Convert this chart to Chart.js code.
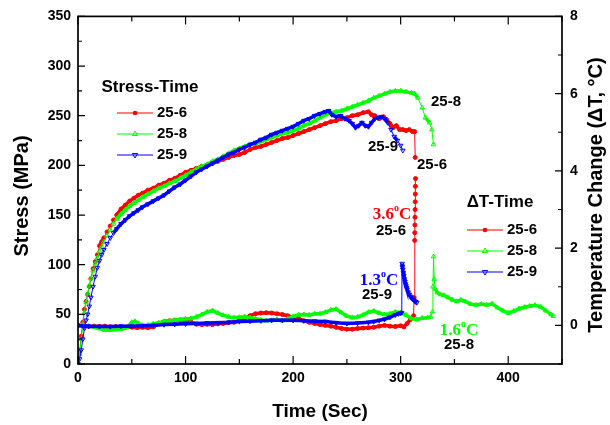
<!DOCTYPE html>
<html>
<head>
<meta charset="utf-8">
<script src="https://cdn.jsdelivr.net/npm/chart.js"></script>
<style>
  body { margin: 0; background: #fff; }
  canvas { display: block; }
</style>
</head>
<body>
<canvas id="myChart" width="610" height="425"></canvas>
<script>
// stress vs time (MPa)
const t6 = [0,1.5,3,4.5,6,7.5,9,10.5,12,14,16,18,20,22,24,27,30,33,36,40,44,48,52,56,60,65,70,75,80,85,90,95,100,105,110,115,120,125,130,135,140,145,150,155,160,165,170,175,180,185,190,195,200,205,210,215,220,225,230,235,240,245,250,255,260,265,270,273,276,280,284,287,290,293,296,299,302,305,308,311,313,313.5];
const s6 = [0,12,28,42,55,63,70,78,86,96,103,110,119,123,127,133,139,145,150,156,160,164,167,170,172,175,177,180,182,185,187,190,193,195,197,199,200,202,204,206,208,210,211,213,216,218,219,221,223,225,227,228,230,232,234,236,238,240,242,244,245,247,248,250,251,253,254,251,250,247,249,246,242,238,240,236,236,235,236,234,234,208];

const t8 = [0,1.5,3,4.5,6,7.5,9,10.5,12,14,16,18,20,22,24,27,30,33,36,40,44,48,52,56,60,65,70,75,80,85,90,95,100,105,110,115,120,125,130,135,140,145,150,155,160,165,170,175,180,185,190,195,200,205,210,215,220,225,230,235,240,245,250,255,260,265,270,275,280,285,290,295,300,305,310,313,316,320,323,327,329,330.5];
const s8 = [0,10,25,40,52,62,71,79,86,94,101,107,113,118,123,129,135,141,146,151,155,159,162,165,168,171,174,177,179,182,184,187,190,193,196,199,201,204,206,209,212,215,217,219,221,222,224,226,228,230,232,233,235,237,240,242,245,248,251,253,254,255,257,259,261,263,265,268,270,272,274,275,275,274,273,272,268,258,248,243,236,221];

const t9 = [0,1.5,3,4.5,6,7.5,9,10.5,12,14,16,18,20,22,24,27,30,33,36,40,44,48,52,56,60,65,70,75,80,85,90,95,100,105,110,115,120,125,130,135,140,145,150,155,160,165,170,175,180,185,190,195,200,205,210,215,220,225,230,233,236,240,244,248,252,255,258,261,264,267,270,273,276,279,282,285,288,291,294,297,300,302];
const s9 = [0,5,14,25,36,44,50,58,67,78,88,97,104,110,115,121,127,132,136,141,145,149,152,155,158,161,164,167,170,174,178,181,185,189,193,196,199,202,205,208,211,213,216,218,221,223,226,228,231,233,235,237,239,242,245,247,250,252,254,255,251,249,250,247,245,242,238,240,243,240,239,243,247,248,249,247,243,236,229,225,220,215];

// temperature change vs time (deg C)
const tt6 = [0,5,10,15,20,25,30,35,40,45,50,55,60,65,70,75,80,85,90,95,100,105,110,115,120,125,130,135,140,145,150,155,160,165,170,175,180,185,190,195,200,205,210,215,220,225,230,235,240,245,250,255,260,265,270,275,280,285,290,295,300,303,306,309,311,312,312.5,313,313.1,313.2,313.3,313.4,313.5,313.6,313.7,313.8];
const dT6 = [0,-0.02,-0.03,-0.02,-0.03,-0.02,-0.04,-0.03,-0.05,-0.04,-0.05,-0.06,-0.05,-0.06,-0.04,0.05,0.1,0.12,0.13,0.12,0.12,0.09,0.03,0.02,0.03,0.02,0.04,0.05,0.07,0.08,0.12,0.18,0.25,0.3,0.32,0.33,0.32,0.3,0.28,0.25,0.2,0.18,0.12,0.08,0.05,0.02,0,-0.02,-0.05,-0.08,-0.1,-0.1,-0.08,-0.07,-0.06,-0.05,-0.02,0,-0.02,-0.03,-0.01,-0.04,0.05,0.15,0.2,0.25,0.72,2.2,2.4,2.6,2.8,3.0,3.2,3.4,3.6,3.8];

const tt8 = [0,5,10,15,20,25,30,35,40,45,50,53,56,60,65,70,75,80,85,90,95,100,105,110,115,120,125,130,135,140,145,150,155,160,165,170,175,180,185,190,195,200,205,210,215,220,225,230,235,240,245,250,255,260,265,270,275,280,285,290,295,300,305,310,315,320,325,328,329.5,330,330.6,331.2,332,334,337,340,344,348,352,356,360,365,370,375,380,385,390,395,400,405,410,415,420,425,430,435,440,442];
const dT8 = [0,0,-0.02,-0.05,-0.08,-0.12,-0.12,-0.11,-0.1,-0.06,0.08,0.1,0.05,0,0.01,0.04,0.06,0.1,0.12,0.13,0.15,0.17,0.18,0.22,0.28,0.35,0.38,0.32,0.26,0.22,0.2,0.21,0.22,0.2,0.17,0.14,0.12,0.13,0.15,0.12,0.17,0.23,0.27,0.28,0.27,0.3,0.3,0.34,0.4,0.42,0.33,0.24,0.2,0.22,0.27,0.34,0.37,0.32,0.28,0.3,0.35,0.33,0.27,0.18,0.15,0.19,0.2,0.22,0.35,1.0,1.78,1.2,0.95,0.85,0.8,0.78,0.72,0.66,0.62,0.66,0.62,0.55,0.53,0.55,0.53,0.56,0.46,0.38,0.32,0.37,0.43,0.47,0.5,0.52,0.48,0.38,0.28,0.24];

const tt9 = [0,10,20,30,40,50,60,70,80,90,100,110,120,130,140,150,160,170,180,190,200,210,220,230,240,250,260,270,275,280,285,290,295,298,300,301,301.3,301.6,302,302.5,303,303.5,304,304.5,305,305.5,306,307,308,309,310,311,312,313,314,315];
const dT9 = [0,-0.02,-0.03,-0.03,-0.02,-0.02,-0.01,0,0.02,0.03,0.04,0.05,0.06,0.07,0.08,0.1,0.11,0.12,0.13,0.13,0.13,0.12,0.11,0.1,0.07,0.05,0.06,0.08,0.1,0.13,0.16,0.21,0.27,0.3,0.32,0.33,1.6,1.52,1.45,1.36,1.28,1.2,1.13,1.07,1.02,0.97,0.93,0.86,0.8,0.75,0.71,0.68,0.66,0.63,0.61,0.59];

const samples = ["25-6", "25-8", "25-9"];
const timeTicks = [0, 100, 200, 300, 400];
const stressTicks = [0, 50, 100, 150, 200, 250, 300, 350];
const tempTicks = [0, 2, 4, 6, 8];

const RED = "#ff0000", GREEN = "#00ff00", BLUE = "#0000ff";
const FONT = "'Liberation Sans', Arial, sans-serif";
const SERIF = "'Liberation Serif', 'Times New Roman', serif";

const pts = (xs, ys) => xs.map((x, i) => ({ x: x, y: ys[i] }));

// steep segments (jumps) are thin, dense parts look thick like the packed markers
const segWidth = (ctx) => {
  const dx = Math.abs(ctx.p1.x - ctx.p0.x);
  const dy = Math.abs(ctx.p1.y - ctx.p0.y);
  return dy > 4 && dy > 1.5 * dx ? 1 : 3.5;
};

function series(label, data, color, style, axis, order) {
  return {
    label: label,
    data: data,
    yAxisID: axis,
    order: order,
    borderColor: color,
    backgroundColor: color,
    borderWidth: 3.5,
    segment: { borderWidth: segWidth },
    pointStyle: style === "down" ? "triangle" : style,
    pointRotation: style === "down" ? 180 : 0,
    pointRadius: style === "circle" ? 2 : 2.6,
    pointBorderWidth: 1,
    pointBorderColor: color,
    pointBackgroundColor: style === "circle" ? color : "rgba(255,255,255,0)",
    tension: 0,
  };
}

const datasets = [
  series(samples[0], pts(t6, s6), RED, "circle", "y", 3),
  series(samples[1], pts(t8, s8), GREEN, "triangle", "y", 2),
  series(samples[2], pts(t9, s9), BLUE, "down", "y", 1),
  series(samples[0], pts(tt6, dT6), RED, "circle", "y1", 3),
  series(samples[1], pts(tt8, dT8), GREEN, "triangle", "y1", 2),
  series(samples[2], pts(tt9, dT9), BLUE, "down", "y1", 1),
];

function marker(ctx, style, x, y, color) {
  ctx.save();
  ctx.strokeStyle = color;
  ctx.fillStyle = color;
  ctx.lineWidth = 1;
  ctx.beginPath();
  if (style === "circle") {
    ctx.arc(x, y, 2.3, 0, Math.PI * 2);
    ctx.fill();
  } else {
    const r = 3, d = style === "down" ? -1 : 1;
    ctx.moveTo(x, y - d * r);
    ctx.lineTo(x - r * 0.87, y + d * r * 0.5);
    ctx.lineTo(x + r * 0.87, y + d * r * 0.5);
    ctx.closePath();
    ctx.stroke();
  }
  ctx.restore();
}

function degLabel(ctx, value, x, y, color) {
  ctx.save();
  ctx.fillStyle = color;
  ctx.textBaseline = "alphabetic";
  ctx.textAlign = "left";
  ctx.font = "bold 17px " + SERIF;
  const w1 = ctx.measureText(value).width;
  const w3 = ctx.measureText("C").width;
  ctx.font = "bold 10px " + SERIF;
  const w2 = ctx.measureText("o").width;
  let x0 = x - (w1 + w2 + w3) / 2;
  const base = y + 6;
  ctx.font = "bold 17px " + SERIF;
  ctx.fillText(value, x0, base);
  ctx.font = "bold 10px " + SERIF;
  ctx.fillText("o", x0 + w1, base - 8);
  ctx.font = "bold 17px " + SERIF;
  ctx.fillText("C", x0 + w1 + w2, base);
  ctx.restore();
}

const styles = ["circle", "triangle", "down"];
const colors = [RED, GREEN, BLUE];

const notes = [
  { text: "25-8", x: 446, y: 102 },
  { text: "25-9", x: 383, y: 147 },
  { text: "25-6", x: 432, y: 165 },
  { text: "25-6", x: 391, y: 231 },
  { text: "25-9", x: 377, y: 295 },
  { text: "25-8", x: 459, y: 345 },
];

const decor = {
  id: "decor",
  afterDraw(chart) {
    const { ctx, chartArea: a, scales } = chart;
    ctx.save();
    // frame
    ctx.strokeStyle = "#000";
    ctx.lineWidth = 1.7;
    ctx.strokeRect(a.left, a.top, a.right - a.left, a.bottom - a.top);
    // inward ticks
    ctx.lineWidth = 1.2;
    ctx.beginPath();
    for (let v = 0; v <= 450; v += 50) {
      const px = scales.x.getPixelForValue(v);
      const len = v % 100 === 0 ? 8 : 5;
      ctx.moveTo(px, a.bottom); ctx.lineTo(px, a.bottom - len);
      ctx.moveTo(px, a.top); ctx.lineTo(px, a.top + len);
    }
    for (let v = 0; v <= 350; v += 25) {
      const py = scales.y.getPixelForValue(v);
      const len = v % 50 === 0 ? 7 : 4;
      ctx.moveTo(a.left, py); ctx.lineTo(a.left + len, py);
    }
    for (let v = -1; v <= 8; v += 1) {
      const py = scales.y1.getPixelForValue(v);
      const len = v % 2 === 0 ? 7 : 4;
      ctx.moveTo(a.right, py); ctx.lineTo(a.right - len, py);
    }
    ctx.stroke();

    // y axis titles (both read bottom to top)
    ctx.fillStyle = "#000";
    ctx.textAlign = "center";
    ctx.textBaseline = "middle";
    ctx.font = "bold 20px " + FONT;
    ctx.save();
    ctx.translate(22, 196);
    ctx.rotate(-Math.PI / 2);
    ctx.fillText("Stress (MPa)", 0, 0);
    ctx.restore();
    ctx.save();
    ctx.translate(596, 195);
    ctx.rotate(-Math.PI / 2);
    ctx.fillText("Temperature Change (\u0394T, \u00B0C)", 0, 0);
    ctx.restore();

    // legends
    const groups = [
      { title: "Stress-Time", tx: 150, ty: 87, rows: [113, 134, 155], x0: 117, x1: 153 },
      { title: "\u0394T-Time", tx: 500, ty: 202, rows: [230, 251, 272], x0: 467, x1: 503 },
    ];
    groups.forEach((g) => {
      ctx.font = "bold 17px " + FONT;
      ctx.fillStyle = "#000";
      ctx.textAlign = "center";
      ctx.fillText(g.title, g.tx, g.ty);
      g.rows.forEach((ry, i) => {
        ctx.strokeStyle = colors[i];
        ctx.lineWidth = 1.2;
        ctx.beginPath();
        ctx.moveTo(g.x0, ry); ctx.lineTo(g.x1, ry);
        ctx.stroke();
        marker(ctx, styles[i], (g.x0 + g.x1) / 2, ry, colors[i]);
        ctx.font = "bold 15px " + FONT;
        ctx.fillStyle = "#000";
        ctx.textAlign = "left";
        ctx.fillText(samples[i], g.x1 + 4, ry);
      });
    });

    // annotations
    ctx.font = "bold 15px " + FONT;
    ctx.fillStyle = "#000";
    ctx.textAlign = "center";
    notes.forEach((n) => ctx.fillText(n.text, n.x, n.y));
    degLabel(ctx, "3.6", 392, 213, RED);
    degLabel(ctx, "1.3", 379, 279, BLUE);
    degLabel(ctx, "1.6", 459, 329, GREEN);
    ctx.restore();
  },
};

const tickFont = { family: FONT, size: 14, weight: "bold" };

const config = {
  type: "line",
  data: { datasets: datasets },
  options: {
    responsive: false,
    animation: false,
    layout: { padding: { top: 15, left: 0, right: 0, bottom: 0 } },
    plugins: { legend: { display: false }, tooltip: { enabled: false } },
    scales: {
      x: {
        type: "linear",
        min: 0,
        max: 450,
        grid: { display: false, drawTicks: false },
        border: { display: false },
        afterBuildTicks: (s) => { s.ticks = timeTicks.map((v) => ({ value: v })); },
        afterFit: (s) => { s.height = 61; },
        ticks: { font: tickFont, color: "#000", padding: 6, maxRotation: 0 },
        title: {
          display: true,
          text: "Time (Sec)",
          color: "#000",
          font: { family: FONT, size: 19, weight: "bold" },
          padding: { top: 0, bottom: 2 },
        },
      },
      y: {
        type: "linear",
        position: "left",
        min: 0,
        max: 350,
        grid: { display: false, drawTicks: false },
        border: { display: false },
        afterBuildTicks: (s) => { s.ticks = stressTicks.map((v) => ({ value: v })); },
        afterFit: (s) => { s.width = 78; },
        ticks: { font: tickFont, color: "#000", padding: 7 },
      },
      y1: {
        type: "linear",
        position: "right",
        min: -1,
        max: 8,
        grid: { display: false, drawTicks: false },
        border: { display: false },
        afterBuildTicks: (s) => { s.ticks = tempTicks.map((v) => ({ value: v })); },
        afterFit: (s) => { s.width = 48; },
        ticks: { font: tickFont, color: "#000", padding: 8 },
      },
    },
  },
  plugins: [decor],
};

const myChart = new Chart(document.getElementById("myChart"), config);
</script>
</body>
</html>
